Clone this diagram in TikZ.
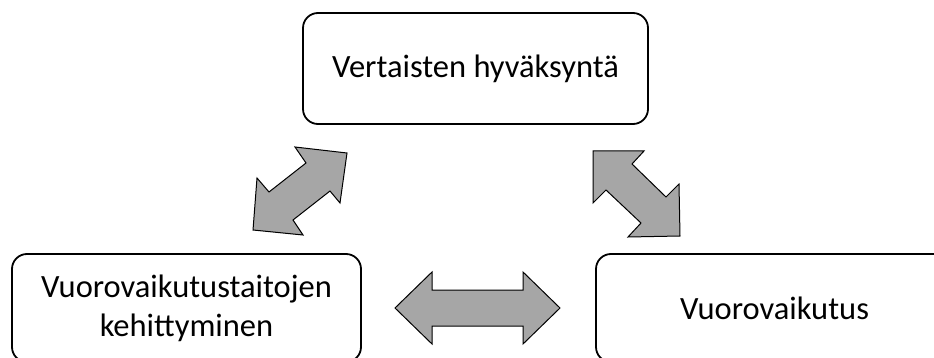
\documentclass[tikz,border=0pt]{standalone}
\usepackage{fontspec}
\setmainfont{Carlito}
\begin{document}
\begin{tikzpicture}[x=1pt,y=-1pt,
  box/.style={draw=black,line width=1.8pt,rounded corners=15pt,fill=white,align=center,
    font=\fontsize{32.5}{39}\selectfont,inner sep=0pt},
  blockarrow/.style={draw=black,fill=arrowgray,line width=1pt,line join=miter}]
\definecolor{arrowgray}{HTML}{A6A6A6}
\useasboundingbox (0,0) rectangle (934,358);
\clip (0,0) rectangle (934,358);
\node[box,minimum width=345pt,minimum height=111pt] (top) at (475.5,68.5) {Vertaisten hyväksyntä};
\node[box,minimum width=349pt,minimum height=108pt] (left) at (186.5,308) {Vuorovaikutustaitojen\\kehittyminen};
\node[box,minimum width=357pt,minimum height=108pt] (right) at (774.5,308) {Vuorovaikutus};
% left diagonal double arrow
\draw[blockarrow] (347,153) -- (295,147) -- (306,163) -- (269,192) -- (257,178) -- (253,230)
  -- (303,235) -- (293,220) -- (330,191) -- (340,203) -- cycle;
% right diagonal double arrow
\draw[blockarrow] (593,151) -- (644,151) -- (632,164) -- (666,197) -- (679,184) -- (680,236)
  -- (628,237) -- (641,223) -- (606,190) -- (593,203) -- cycle;
% horizontal double arrow
\draw[blockarrow] (395,308) -- (432,272) -- (432,290) -- (523,290) -- (523,272) -- (560,308)
  -- (523,344) -- (523,326) -- (432,326) -- (432,344) -- cycle;
\end{tikzpicture}
\end{document}
